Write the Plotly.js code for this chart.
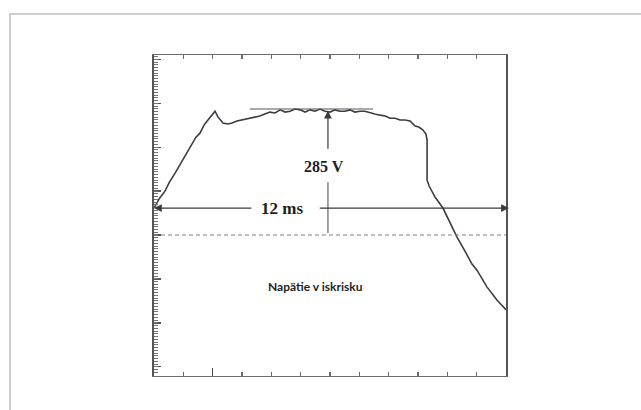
<!DOCTYPE html>
<html>
<head>
<meta charset="utf-8">
<script src="https://cdn.plot.ly/plotly-3.0.1.min.js"></script>
<style>
html,body{margin:0;padding:0;background:#fff;}
#chart{width:641px;height:410px;}
#frame{position:absolute;left:9px;top:13px;width:700px;height:500px;border-left:2px solid #cfcfcf;border-top:2px solid #cfcfcf;pointer-events:none;}
</style>
</head>
<body>
<div id="chart"></div>
<div id="frame"></div>
<script>
// time in ms, voltage in V (dashed reference line = 0 V)
const timeMs = [0,0.19,0.375,0.53,0.72,0.955,1.227,1.43,1.568,1.72,1.841,1.977,2.08,2.18,2.35,2.52,2.66,2.83,3.0,3.17,3.34,3.48,3.61,3.78,3.95,4.125,4.3,4.47,4.64,4.81,4.98,5.15,5.32,5.49,5.66,5.83,6.0,6.17,6.34,6.51,6.68,6.85,7.02,7.19,7.36,7.53,7.71,7.88,8.05,8.22,8.39,8.56,8.73,8.9,9.03,9.17,9.27,9.31,9.31,9.31,9.38,9.58,9.85,10.09,10.33,10.6,10.84,11.01,11.35,11.69,12.0];
const voltage = [61.5,84,100,121,141,169,199,223,232,252,262,275,282,269,255,253,255,259.6,262,264,266,269,271,275.5,280,278,285,280,282,287,285,280,285,282,287,282,280,285,282,282,285,280,282,282,278,275.5,273,271,266,266,262,262,259.6,248,246,239,230,216,171,125,111.6,86.5,61.5,29.6,-4.6,-36.4,-66,-80,-118,-148,-170];

const spanLabel = "12 ms";
const spanMs = 12;
const peakLabel = "285 V";
const caption = "Napätie v iskrisku";

const lineCol = "#3f3b42";
const axisCol = "#6e6a6c";

// minor tick positions on the voltage axis (every 6.25 V)
const minorTickVals = [];
for (let v = -318.75; v <= 406.25; v += 6.25) minorTickVals.push(v);

const trace = {
  x: timeMs, y: voltage, mode: "lines", type: "scatter",
  line: {color: lineCol, width: 1.6}, hoverinfo: "skip", cliponaxis: false
};
const ticks2 = {
  x: [0], y: [0], xaxis: "x2", yaxis: "y2", mode: "markers", marker: {opacity: 0}, hoverinfo: "skip"
};

const arrowYV = 61.5;
const markX = 5.93;

const layout = {
  width: 641, height: 410,
  margin: {l: 154, r: 135, t: 55, b: 34},
  paper_bgcolor: "#ffffff", plot_bgcolor: "#ffffff",
  showlegend: false,
  xaxis: {
    range: [0, spanMs], dtick: 1, tick0: 0, ticks: "inside", ticklen: 4, tickwidth: 1.2,
    tickcolor: axisCol, showticklabels: false, showgrid: false, zeroline: false,
    showline: true, linecolor: axisCol, linewidth: 1.2, mirror: "ticks"
  },
  xaxis2: {
    overlaying: "x", range: [0, spanMs], tickmode: "array", tickvals: [2, 12], ticks: "inside", ticklen: 8,
    tickwidth: 1.5, tickcolor: "#4a4648", showticklabels: false, showgrid: false,
    zeroline: false, showline: false, side: "bottom", anchor: "y2"
  },
  yaxis: {
    range: [-321, 410], dtick: 100, tick0: 0, ticks: "inside", ticklen: 7, tickwidth: 1.3,
    tickcolor: "#5a5658", showticklabels: false, showgrid: false, zeroline: false,
    showline: true, linecolor: "#555", linewidth: 1.6, mirror: true
  },
  yaxis2: {
    overlaying: "y", range: [-321, 410], tickmode: "array", tickvals: minorTickVals,
    ticks: "inside", ticklen: 4, tickwidth: 1, tickcolor: "#767274",
    showticklabels: false, showgrid: false, zeroline: false,
    showline: false, side: "left", anchor: "x2"
  },
  shapes: [
    {type: "line", xref: "x", yref: "y", x0: 0, x1: spanMs, y0: 0, y1: 0,
     line: {color: "#8c7f7a", width: 1.1, dash: "4px,3px"}},
    {type: "line", xref: "x", yref: "y", x0: 3.27, x1: 7.47, y0: 287, y1: 287,
     line: {color: "#555", width: 1.2}},
    {type: "line", xref: "x", yref: "y", x0: markX, x1: markX, y0: 4.5, y1: 120,
     line: {color: "#555", width: 1.1}}
  ],
  annotations: [
    {x: 0, y: arrowYV, ax: 3.37, ay: arrowYV, xref: "x", yref: "y", axref: "x", ayref: "y",
     text: "", showarrow: true, arrowhead: 2, arrowsize: 1.3, arrowwidth: 1.2, arrowcolor: "#3a3a3a", standoff: 0},
    {x: 12.1, y: arrowYV, ax: 5.6, ay: arrowYV, xref: "x", yref: "y", axref: "x", ayref: "y",
     text: "", showarrow: true, arrowhead: 2, arrowsize: 1.3, arrowwidth: 1.2, arrowcolor: "#3a3a3a", standoff: 0},
    {x: markX, y: 283, ax: markX, ay: 193, xref: "x", yref: "y", axref: "x", ayref: "y",
     text: "", showarrow: true, arrowhead: 2, arrowsize: 1.3, arrowwidth: 1.2, arrowcolor: "#3a3a3a", standoff: 0},
    {x: 4.38, y: arrowYV, xref: "x", yref: "y", text: "<b>" + spanLabel + "</b>", showarrow: false,
     font: {family: "Liberation Serif, Times New Roman, serif", size: 17, color: "#1e1e1e"}},
    {x: 5.8, y: 155, xref: "x", yref: "y", text: "<b>" + peakLabel + "</b>", showarrow: false,
     font: {family: "Liberation Serif, Times New Roman, serif", size: 16, color: "#1e1e1e"}},
    {x: 5.49, y: -118, xref: "x", yref: "y", text: "<b>" + caption + "</b>", showarrow: false,
     font: {family: "Lato, sans-serif", size: 12, color: "#1e1e1e"}}
  ]
};

Plotly.newPlot("chart", [trace, ticks2], layout, {staticPlot: true, displayModeBar: false});
</script>
</body>
</html>
